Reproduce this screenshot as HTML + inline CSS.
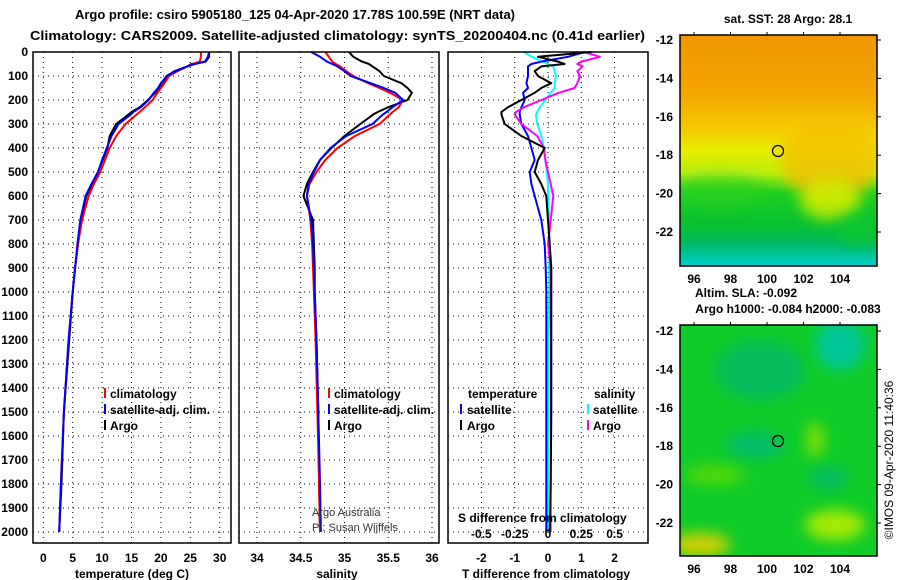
<!DOCTYPE html>
<html><head><meta charset="utf-8"><style>
html,body{margin:0;padding:0;background:#fff;}
svg{display:block;font-family:"Liberation Sans",sans-serif;}
.b{font-weight:bold;font-size:13px;fill:#000;}
.t{font-weight:bold;font-size:12px;fill:#000;}
</style></head><body>
<svg id="chart" width="900" height="580" viewBox="0 0 900 580" xmlns="http://www.w3.org/2000/svg">
<defs>
<linearGradient id="sstg" x1="0" y1="0" x2="0" y2="1">
<stop offset="0" stop-color="#f09600"/><stop offset="0.25" stop-color="#f3a600"/><stop offset="0.4" stop-color="#f5c800"/>
<stop offset="0.5" stop-color="#e8ec00"/><stop offset="0.6" stop-color="#b8ee10"/><stop offset="0.68" stop-color="#20d020"/>
<stop offset="0.82" stop-color="#08c030"/><stop offset="0.9" stop-color="#00b860"/><stop offset="1" stop-color="#00d0d0"/>
</linearGradient>
<filter id="bl" x="-50%" y="-50%" width="200%" height="200%"><feGaussianBlur stdDeviation="7"/></filter>
<clipPath id="c1"><rect x="680" y="35" width="197" height="231"/></clipPath>
<clipPath id="c2"><rect x="680" y="325" width="197" height="231"/></clipPath>
</defs>
<text class="b" x="295" y="19" text-anchor="middle">Argo profile: csiro 5905180_125 04-Apr-2020 17.78S 100.59E (NRT data)</text>
<text class="b" x="30" y="40" textLength="615" lengthAdjust="spacingAndGlyphs">Climatology: CARS2009. Satellite-adjusted climatology: synTS_20200404.nc (0.41d earlier)</text>
<g id="grid"></g>
<g id="marks"></g>
<g id="frames"></g>
<g id="labels"></g>

<text class="t" x="132" y="578" text-anchor="middle">temperature (deg C)</text>
<text class="t" x="337" y="578" text-anchor="middle">salinity</text>
<text class="t" x="546" y="578" text-anchor="middle">T difference from climatology</text>

<g>
<rect x="104" y="388" width="2" height="10" fill="#f00"/><text class="t" x="110" y="398">climatology</text>
<rect x="104" y="404" width="2" height="10" fill="#00f"/><text class="t" x="110" y="414">satellite-adj. clim.</text>
<rect x="104" y="420" width="2" height="10" fill="#000"/><text class="t" x="110" y="430">Argo</text>
</g>
<g>
<rect x="328" y="388" width="2" height="10" fill="#f00"/><text class="t" x="334" y="398">climatology</text>
<rect x="328" y="404" width="2" height="10" fill="#00f"/><text class="t" x="334" y="414">satellite-adj. clim.</text>
<rect x="328" y="420" width="2" height="10" fill="#000"/><text class="t" x="334" y="430">Argo</text>
</g>
<g>
<text class="t" x="468" y="398">temperature</text><text class="t" x="594" y="398">salinity</text>
<rect x="460" y="404" width="2" height="10" fill="#00f"/><text class="t" x="467" y="414">satellite</text>
<rect x="460" y="420" width="2" height="10" fill="#000"/><text class="t" x="467" y="430">Argo</text>
<rect x="587" y="404" width="2" height="10" fill="#0ff"/><text class="t" x="593" y="414">satellite</text>
<rect x="587" y="420" width="2" height="10" fill="#f0f"/><text class="t" x="593" y="430">Argo</text>
</g>
<text x="312" y="516" font-size="11" fill="#333">Argo Australia</text>
<text x="312" y="531" font-size="11" fill="#333">PI: Susan Wijffels</text>
<text class="t" x="458" y="522">S difference from climatology</text>

<!-- maps -->
<g clip-path="url(#c1)">
<rect x="680" y="35" width="197" height="231" fill="url(#sstg)"/>
<ellipse cx="830" cy="160" rx="50" ry="40" fill="#f2c000" opacity="0.8" filter="url(#bl)"/>
<ellipse cx="830" cy="200" rx="30" ry="20" fill="#d8f000" opacity="0.8" filter="url(#bl)"/>
<ellipse cx="720" cy="190" rx="45" ry="15" fill="#30d020" opacity="0.6" filter="url(#bl)"/>
<ellipse cx="860" cy="230" rx="25" ry="15" fill="#10c830" opacity="0.8" filter="url(#bl)"/>
</g>
<g clip-path="url(#c2)">
<rect x="680" y="325" width="197" height="231" fill="#10cc28"/>
<ellipse cx="760" cy="370" rx="45" ry="30" fill="#00b868" opacity="0.8" filter="url(#bl)"/>
<ellipse cx="840" cy="345" rx="25" ry="25" fill="#00c8a8" opacity="0.9" filter="url(#bl)"/>
<ellipse cx="755" cy="445" rx="30" ry="14" fill="#00b878" opacity="0.8" filter="url(#bl)"/>
<ellipse cx="828" cy="478" rx="20" ry="12" fill="#00b870" opacity="0.8" filter="url(#bl)"/>
<ellipse cx="815" cy="440" rx="9" ry="18" fill="#88e000" opacity="0.9" filter="url(#bl)"/>
<ellipse cx="835" cy="525" rx="30" ry="15" fill="#b8ee00" opacity="0.9" filter="url(#bl)"/>
<ellipse cx="715" cy="475" rx="30" ry="10" fill="#70e000" opacity="0.7" filter="url(#bl)"/>
<ellipse cx="700" cy="545" rx="30" ry="12" fill="#e8d000" opacity="0.9" filter="url(#bl)"/>
</g>
<rect x="680" y="35" width="197" height="231" fill="none" stroke="#000" stroke-width="1.5"/>
<rect x="680" y="325" width="197" height="231" fill="none" stroke="#000" stroke-width="1.5"/>
<circle cx="778" cy="151" r="5.5" fill="none" stroke="#000" stroke-width="1.2"/>
<circle cx="778" cy="441" r="5.5" fill="none" stroke="#000" stroke-width="1.2"/>
<text class="t" x="788" y="23" text-anchor="middle">sat. SST: 28 Argo: 28.1</text>
<text class="t" x="695" y="297">Altim. SLA: -0.092</text>
<text class="t" x="788" y="313" text-anchor="middle">Argo h1000: -0.084 h2000: -0.083</text>
<g id="maplabels"></g>
<text font-size="12" fill="#000" transform="translate(893,460) rotate(-90)" text-anchor="middle">©IMOS 09-Apr-2020 11:40:36</text>
</svg>
<script>
const depths=[0,20,40,50,60,80,100,130,150,170,200,230,250,260,300,350,400,450,500,550,600,700,800,900,1000,1200,1500,1800,2000];
const tempClim=[26.8,26.8,26.6,25.5,24.5,22.8,21.4,20.6,20.0,19.4,18.6,17.3,16.4,15.9,14.0,12.4,11.3,10.5,9.7,8.6,7.7,6.6,5.9,5.4,5.0,4.3,3.5,3.0,2.7];
const tempSat=[28.2,28.0,27.5,25.8,24.5,22.5,21.0,20.0,19.5,18.8,17.9,16.6,15.3,14.9,12.8,11.6,10.8,10.0,9.3,8.2,7.2,6.3,5.8,5.4,5.0,4.3,3.5,3.0,2.7];
const tempArgo=[28.2,28.2,27.6,25.2,24.5,22.3,21.0,20.5,19.8,19.0,17.8,16.4,15.0,14.5,12.4,11.3,10.9,10.1,9.3,8.3,7.3,6.4,5.9,5.4,5.0,4.4,3.5,3.1,2.7];
const salClim=[34.78,34.82,34.86,34.9,34.95,35.02,35.1,35.27,35.4,35.52,35.67,35.62,35.55,35.52,35.40,35.12,34.92,34.78,34.68,34.6,34.57,34.61,34.63,34.64,34.65,34.67,34.69,34.71,34.72];
const salSat=[34.62,34.72,34.8,34.86,34.92,35.0,35.07,35.3,35.45,35.58,35.67,35.55,35.48,35.44,35.32,35.02,34.84,34.72,34.65,34.59,34.57,34.62,34.64,34.65,34.66,34.68,34.7,34.72,34.73];
const salArgo=[35.05,35.1,35.2,35.28,35.32,35.4,35.45,35.65,35.72,35.77,35.72,35.5,35.38,35.33,35.18,35.0,34.85,34.72,34.64,34.57,34.53,34.64,34.65,34.66,34.66,34.68,34.7,34.71,34.72];
const tDiffArgo=[1.3,-0.3,0.3,0.5,-0.2,-0.4,-0.3,0.1,-0.2,-0.4,-0.8,-1.2,-1.4,-1.4,-1.3,-0.8,-0.1,-0.3,-0.4,-0.2,-0.05,0.0,0.05,0.1,0.1,0.1,0.1,0.08,0.05];
const tDiffSat=[1.1,0.6,-0.2,-0.5,-0.6,-0.6,-0.6,-0.65,-0.6,-0.75,-0.7,-0.8,-0.85,-0.85,-0.8,-0.6,-0.5,-0.4,-0.55,-0.5,-0.4,-0.2,-0.1,-0.07,-0.05,-0.05,-0.05,-0.05,-0.05];
const sDiffSat=[-0.18,-0.12,-0.04,0.0,0.04,0.05,0.06,0.05,0.05,0.02,-0.02,-0.06,-0.08,-0.09,-0.08,-0.05,-0.03,-0.02,-0.01,0.0,0.0,0.01,0.01,0.01,0.01,0.0,0.0,0.0,0.0];
const sDiffArgo=[0.27,0.39,0.25,0.22,0.26,0.22,0.24,0.22,0.2,0.08,-0.05,-0.18,-0.24,-0.25,-0.2,-0.08,-0.03,-0.02,0.0,0.02,0.04,0.02,0.0,0.02,0.02,0.02,0.02,0.02,0.02];
const depthTicks=[0,100,200,300,400,500,600,700,800,900,1000,1100,1200,1300,1400,1500,1600,1700,1800,1900,2000];
const tempTicks=[0,5,10,15,20,25,30];
const salTicks=[34,34.5,35,35.5,36];
const tDiffTicks=[-2,-1,0,1,2];
const sDiffTicks=[-0.5,-0.25,0,0.25,0.5];
const lonTicks=[96,98,100,102,104];
const latTicks=[-12,-14,-16,-18,-20,-22];

const NS='http://www.w3.org/2000/svg';
const yD=d=>52+d*0.24;
const xT=t=>43.3+t*5.88;
const xS=s=>257+(s-34)*87.5;
const xTD=v=>548+v*33.3;
const xSD=v=>548+v*133.2;
const panels=[{x0:33,x1:231,sc:xT,ticks:tempTicks,name:'temperature'},{x0:239,x1:439,sc:xS,ticks:salTicks,name:'salinity'},{x0:448,x1:648,sc:xTD,ticks:tDiffTicks,name:'difference'}];
const PT=52,PB=543;
function mk(tag,parent,attrs){const e=document.createElementNS(NS,tag);for(const k in attrs)e.setAttribute(k,attrs[k]);parent.appendChild(e);return e;}
const grid=document.getElementById('grid'),marks=document.getElementById('marks'),frames=document.getElementById('frames'),labels=document.getElementById('labels');
panels.forEach(p=>{
  depthTicks.forEach(d=>{
    const l=mk('line',grid,{x1:p.x0,x2:p.x1,y1:yD(d),y2:yD(d),stroke:'#000','stroke-width':1,'stroke-dasharray':'1,4'});
    
    
  });
  p.ticks.forEach(v=>{
    const l=mk('line',grid,{x1:p.sc(v),x2:p.sc(v),y1:PT,y2:PB,stroke:'#000','stroke-width':1,'stroke-dasharray':'1,4'});
    
    
    const t=mk('text',labels,{x:p.sc(v),y:562,'text-anchor':'middle','class':'t'});
    t.textContent=String(v);
    
    
  });
  const r=mk('rect',frames,{x:p.x0,y:PT,width:p.x1-p.x0,height:PB-PT,fill:'none',stroke:'#000','stroke-width':1.5});
  
  
});
depthTicks.forEach(d=>{
  const t=mk('text',labels,{x:28,y:yD(d)+4,'text-anchor':'end','class':'t'});
  t.textContent=String(d);
  
  
});
sDiffTicks.forEach(v=>{
  const t=mk('text',labels,{x:xSD(v),y:538,'text-anchor':'middle','class':'t'});
  t.textContent=String(v);
  
  
});
function line(vals,sc,color,name){
  const pts=vals.map((v,i)=>sc(v).toFixed(1)+','+yD(depths[i]).toFixed(1)).join(' ');
  const pl=mk('polyline',marks,{points:pts,fill:'none',stroke:color,'stroke-width':2,'stroke-linejoin':'round'});
  
  
}
line(tempArgo,xT,'#000','temp-argo-line');
line(tempClim,xT,'#f00','temp-climatology-line');
line(tempSat,xT,'#00f','temp-satellite-line');
line(salArgo,xS,'#000','sal-argo-line');
line(salClim,xS,'#f00','sal-climatology-line');
line(salSat,xS,'#00f','sal-satellite-line');
line(sDiffSat,xSD,'#0ff','s-diff-satellite-line');
line(tDiffSat,xTD,'#00f','t-diff-satellite-line');
line(sDiffArgo,xSD,'#f0f','s-diff-argo-line');
line(tDiffArgo,xTD,'#000','t-diff-argo-line');
// map axes
const ml=document.getElementById('maplabels');
const xLon=l=>694+(l-96)*18.25;
[[35,266,40,19.2],[325,556,331,19.2]].forEach(m=>{
  const yLat=la=>m[2]+(-12-la)*m[3];
  latTicks.forEach(la=>{
    const t=mk('text',ml,{x:673,y:yLat(la)+4,'text-anchor':'end','class':'t'});
    t.textContent=String(la);
    
    
    mk('line',ml,{x1:877,x2:881,y1:yLat(la),y2:yLat(la),stroke:'#000'});
  });
  lonTicks.forEach(lo=>{
    const t=mk('text',ml,{x:xLon(lo),y:m[1]+17,'text-anchor':'middle','class':'t'});
    t.textContent=String(lo);
    
    
    mk('line',ml,{x1:xLon(lo),x2:xLon(lo),y1:m[0],y2:m[0]-3,stroke:'#000'});
  });
});
</script>
</body></html>
